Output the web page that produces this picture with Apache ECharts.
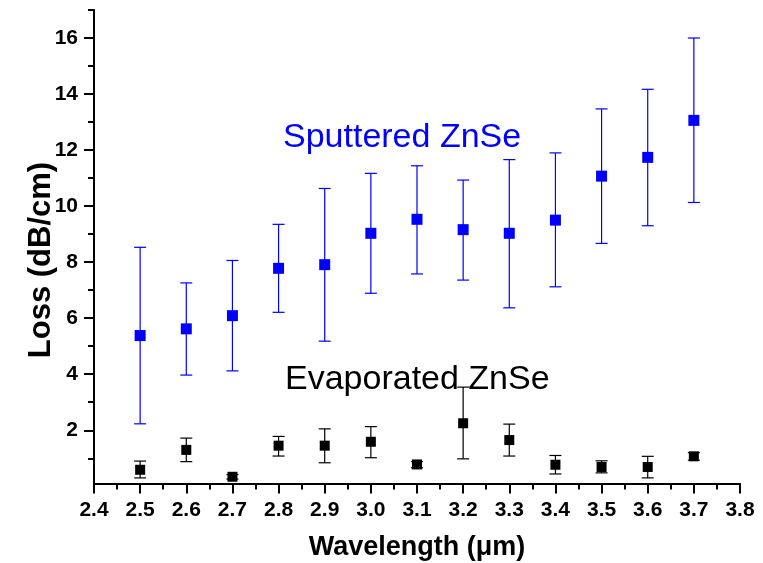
<!DOCTYPE html>
<html>
<head>
<meta charset="utf-8">
<script src="https://cdn.jsdelivr.net/npm/echarts@6/dist/echarts.min.js"></script>
<style>html,body{margin:0;padding:0;background:#fff}#c{width:763px;height:563px}</style>
</head>
<body>
<div id="c"></div>
<script>
const wavelengths = [2.5, 2.6, 2.7, 2.8, 2.9, 3.0, 3.1, 3.2, 3.3, 3.4, 3.5, 3.6, 3.7];
const sputteredLoss = [5.38, 5.62, 6.09, 7.78, 7.91, 9.03, 9.53, 9.16, 9.03, 9.50, 11.07, 11.74, 13.06];
const sputteredLow  = [2.23, 3.97, 4.12, 6.21, 5.18, 6.89, 7.58, 7.36, 6.37, 7.12, 8.67, 9.30, 10.13];
const sputteredHigh = [8.53, 7.26, 8.06, 9.35, 10.63, 11.17, 11.44, 10.93, 11.66, 11.90, 13.47, 14.17, 16.00];
const evaporatedLoss = [0.59, 1.30, 0.34, 1.45, 1.45, 1.59, 0.78, 2.25, 1.65, 0.77, 0.69, 0.69, 1.07];
const evaporatedLow  = [0.30, 0.88, 0.26, 1.08, 0.84, 1.02, 0.66, 0.98, 1.08, 0.44, 0.48, 0.30, 0.93];
const evaporatedHigh = [0.90, 1.72, 0.42, 1.78, 2.05, 2.13, 0.88, 3.54, 2.22, 1.10, 0.91, 1.07, 1.20];
const yMajorTicks = [2, 4, 6, 8, 10, 12, 14, 16];
const yMinorTicks = [1, 3, 5, 7, 9, 11, 13, 15, 17];
const xTitle = 'Wavelength (\u03bcm)';
const yTitle = 'Loss (dB/cm)';
const label1 = 'Sputtered ZnSe';
const label2 = 'Evaporated ZnSe';

const font = '"Liberation Sans", Arial, sans-serif';
const chart = echarts.init(document.getElementById('c'), null, {renderer: 'canvas'});

function errData(lo, hi) {
  return wavelengths.map((x, i) => [x, lo[i], hi[i]]);
}
function errRender(color) {
  return function (params, api) {
    const x = api.value(0);
    const lo = api.coord([x, api.value(1)]);
    const hi = api.coord([x, api.value(2)]);
    const hw = 6;
    const style = {stroke: color, lineWidth: 1.2};
    return {
      type: 'group',
      children: [
        {type: 'line', shape: {x1: lo[0], y1: lo[1], x2: hi[0], y2: hi[1]}, style},
        {type: 'line', shape: {x1: lo[0] - hw, y1: lo[1], x2: lo[0] + hw, y2: lo[1]}, style},
        {type: 'line', shape: {x1: hi[0] - hw, y1: hi[1], x2: hi[0] + hw, y2: hi[1]}, style}
      ]
    };
  };
}

const yMin = 0.1, yMax = 17;
const option = {
  animation: false,
  backgroundColor: '#fff',
  grid: {left: 94, right: 23, top: 10, bottom: 79.5, containLabel: false, outerBoundsMode: 'none'},
  xAxis: {
    type: 'value', min: 2.4, max: 3.8, interval: 0.1,
    axisLine: {show: true, onZero: false, lineStyle: {color: '#000', width: 2}},
    axisTick: {show: true, inside: false, length: 10, lineStyle: {color: '#000', width: 2}},
    minorTick: {show: true, splitNumber: 2, length: 6, lineStyle: {color: '#000', width: 2}},
    splitLine: {show: false},
    axisLabel: {color: '#000', fontFamily: font, fontWeight: 'bold', fontSize: 21, margin: 16,
      formatter: v => v.toFixed(1)},
    name: xTitle, nameLocation: 'middle', nameGap: 51,
    nameTextStyle: {color: '#000', fontFamily: font, fontWeight: 'bold', fontSize: 27}
  },
  yAxis: [{
    type: 'value', min: yMin, max: yMax,
    axisLine: {show: true, onZero: false, lineStyle: {color: '#000', width: 2}},
    axisTick: {show: true, inside: false, length: 10, customValues: yMajorTicks, lineStyle: {color: '#000', width: 2}},
    splitLine: {show: false},
    axisLabel: {color: '#000', fontFamily: font, fontWeight: 'bold', fontSize: 21, margin: 16, customValues: yMajorTicks}
  }, {
    type: 'value', min: yMin, max: yMax, position: 'left',
    axisLine: {show: false},
    axisTick: {show: true, inside: false, length: 6, customValues: yMinorTicks, lineStyle: {color: '#000', width: 2}},
    axisLabel: {show: false},
    splitLine: {show: false}
  }],
  graphic: [
    {type: 'text', x: 41, y: 260, rotation: Math.PI / 2,
      style: {text: yTitle, fill: '#000', font: 'bold 31px ' + font, align: 'center', verticalAlign: 'middle'}},
    {type: 'text', left: 283, top: 121, style: {text: label1, fill: '#0000ff', font: '34px ' + font}},
    {type: 'text', left: 285, top: 363, style: {text: label2, fill: '#000', font: '34px ' + font}}
  ],
  series: [
    {type: 'custom', renderItem: errRender('#0000ff'), data: errData(sputteredLow, sputteredHigh), encode: {x: 0, y: [1, 2]}, z: 2},
    {type: 'custom', renderItem: errRender('#000'), data: errData(evaporatedLow, evaporatedHigh), encode: {x: 0, y: [1, 2]}, z: 2},
    {type: 'scatter', symbol: 'rect', symbolSize: 11, itemStyle: {color: '#0000ff', opacity: 1},
      data: wavelengths.map((x, i) => [x, sputteredLoss[i]]), z: 3},
    {type: 'scatter', symbol: 'rect', symbolSize: 10, itemStyle: {color: '#000', opacity: 1},
      data: wavelengths.map((x, i) => [x, evaporatedLoss[i]]), z: 3}
  ]
};
chart.setOption(option);
</script>
</body>
</html>
